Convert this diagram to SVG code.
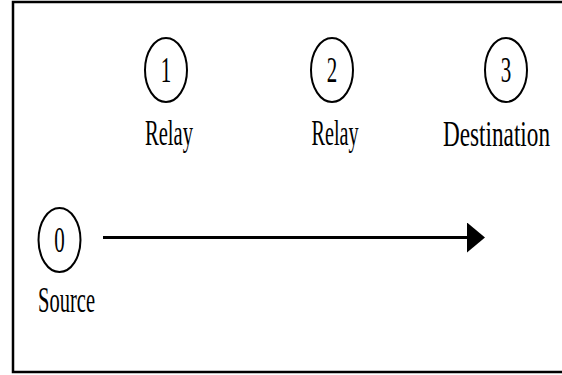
<svg xmlns="http://www.w3.org/2000/svg" width="562" height="375" viewBox="0 0 562 375">
<style>
.node ellipse{fill:none;stroke:#000;stroke-width:2}
text{font-family:"Liberation Serif","Times New Roman",serif;font-size:35px;fill:#000;text-anchor:middle}
.conn line{stroke:#000;stroke-width:3}
</style>
<defs>
<marker id="ah" markerUnits="userSpaceOnUse" markerWidth="20" markerHeight="30" refX="0" refY="15" orient="auto">
<path d="M0,0 L18,15 L0,30 Z" fill="#000"/>
</marker>
</defs>
<rect width="562" height="375" fill="#fff"/>
<path d="M570,2 H13 V372 H570" fill="none" stroke="#000" stroke-width="2.5"/>
<g id="node0" class="node">
<ellipse cx="59.5" cy="240" rx="21" ry="32"/>
<text transform="translate(59.5,252) scale(0.6,1)">0</text>
<text x="66.5" y="312" textLength="57" lengthAdjust="spacingAndGlyphs">Source</text>
</g>
<g id="node1" class="node">
<ellipse cx="166" cy="70" rx="21" ry="32"/>
<text transform="translate(166,82) scale(0.6,1)">1</text>
<text x="169" y="145" textLength="48" lengthAdjust="spacingAndGlyphs">Relay</text>
</g>
<g id="node2" class="node">
<ellipse cx="332" cy="70" rx="21" ry="32"/>
<text transform="translate(332,82) scale(0.6,1)">2</text>
<text x="335" y="145" textLength="47" lengthAdjust="spacingAndGlyphs">Relay</text>
</g>
<g id="node3" class="node">
<ellipse cx="506" cy="70" rx="21" ry="32"/>
<text transform="translate(506,82) scale(0.6,1)">3</text>
<text x="496.5" y="146" textLength="107" lengthAdjust="spacingAndGlyphs">Destination</text>
</g>
<g id="connectors" class="conn">
<line x1="103" y1="237.5" x2="467" y2="237.5" marker-end="url(#ah)"/>
</g>
</svg>
